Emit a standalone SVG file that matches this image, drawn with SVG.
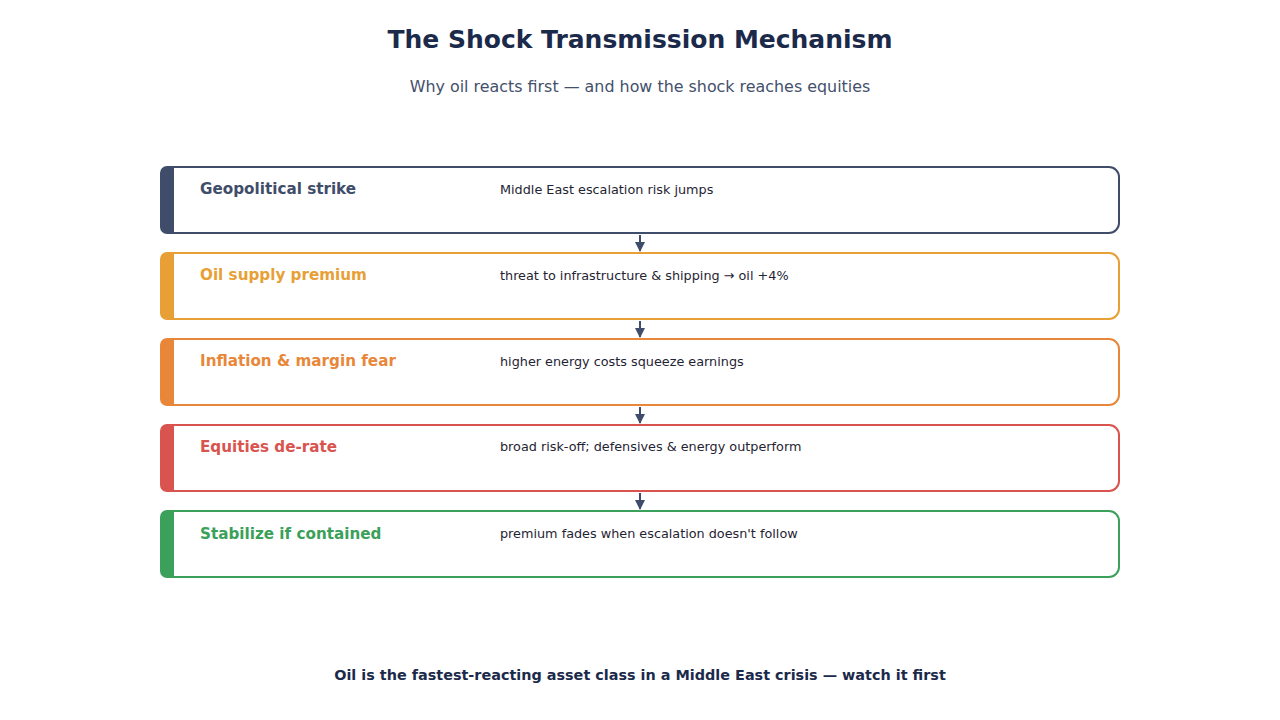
<svg xmlns="http://www.w3.org/2000/svg" width="1280" height="720" viewBox="0 0 1280 720">
<style>
text{font-family:"DejaVu Sans","Noto Sans",sans-serif}
.title{font-size:25px;font-weight:bold;fill:#1b2a4a}
.sub{font-size:15.9px;fill:#44506b}
.foot{font-size:14.4px;font-weight:bold;fill:#1b2a4a}
.box{fill:#fff;stroke-width:2}
.lbl{font-size:15.2px;font-weight:bold}
.desc{font-size:12.8px;fill:#1f2433}
.conn{stroke:#3f4d6b;stroke-width:2;fill:none}
</style>
<defs>
<marker id="ah" viewBox="0 0 10 10" refX="9" refY="5" markerWidth="5" markerHeight="5" orient="auto" markerUnits="strokeWidth">
<path d="M0,0 L10,5 L0,10 z" fill="#3f4d6b"/>
</marker>
</defs>
<rect width="1280" height="720" fill="#fff"/>
<text class="title" x="640" y="48" text-anchor="middle">The Shock Transmission Mechanism</text>
<text class="sub" x="640" y="92" text-anchor="middle">Why oil reacts first — and how the shock reaches equities</text>

<g id="n1">
<rect class="box" x="161" y="167" width="958" height="66" rx="10" stroke="#3f4d6b"/>
<path d="M174,166 V234 H167 A7,7 0 0 1 160,227 V173 A7,7 0 0 1 167,166 Z" fill="#3f4d6b"/>
<text class="lbl" x="200" y="194" fill="#3f4d6b">Geopolitical strike</text>
<text class="desc" x="500" y="194">Middle East escalation risk jumps</text>
</g>
<g id="n2">
<rect class="box" x="161" y="253" width="958" height="66" rx="10" stroke="#e89f36"/>
<path d="M174,252 V320 H167 A7,7 0 0 1 160,313 V259 A7,7 0 0 1 167,252 Z" fill="#e89f36"/>
<text class="lbl" x="200" y="280" fill="#e89f36">Oil supply premium</text>
<text class="desc" x="500" y="280">threat to infrastructure &amp; shipping → oil +4%</text>
</g>
<g id="n3">
<rect class="box" x="161" y="339" width="958" height="66" rx="10" stroke="#e8873a"/>
<path d="M174,338 V406 H167 A7,7 0 0 1 160,399 V345 A7,7 0 0 1 167,338 Z" fill="#e8873a"/>
<text class="lbl" x="200" y="366" fill="#e8873a">Inflation &amp; margin fear</text>
<text class="desc" x="500" y="366">higher energy costs squeeze earnings</text>
</g>
<g id="n4">
<rect class="box" x="161" y="425" width="958" height="66" rx="10" stroke="#d9534f"/>
<path d="M174,424 V492 H167 A7,7 0 0 1 160,485 V431 A7,7 0 0 1 167,424 Z" fill="#d9534f"/>
<text class="lbl" x="200" y="452" fill="#d9534f">Equities de-rate</text>
<text class="desc" x="500" y="451">broad risk-off; defensives &amp; energy outperform</text>
</g>
<g id="n5">
<rect class="box" x="161" y="511" width="958" height="66" rx="10" stroke="#3aa05a"/>
<path d="M174,510 V578 H167 A7,7 0 0 1 160,571 V517 A7,7 0 0 1 167,510 Z" fill="#3aa05a"/>
<text class="lbl" x="200" y="539" fill="#3aa05a">Stabilize if contained</text>
<text class="desc" x="500" y="538">premium fades when escalation doesn't follow</text>
</g>

<g id="connectors">
<line class="conn" x1="640" y1="235" x2="640" y2="251" marker-end="url(#ah)"/>
<line class="conn" x1="640" y1="321" x2="640" y2="337" marker-end="url(#ah)"/>
<line class="conn" x1="640" y1="407" x2="640" y2="423" marker-end="url(#ah)"/>
<line class="conn" x1="640" y1="493" x2="640" y2="509" marker-end="url(#ah)"/>
</g>

<text class="foot" x="640" y="680" text-anchor="middle">Oil is the fastest-reacting asset class in a Middle East crisis — watch it first</text>
</svg>
